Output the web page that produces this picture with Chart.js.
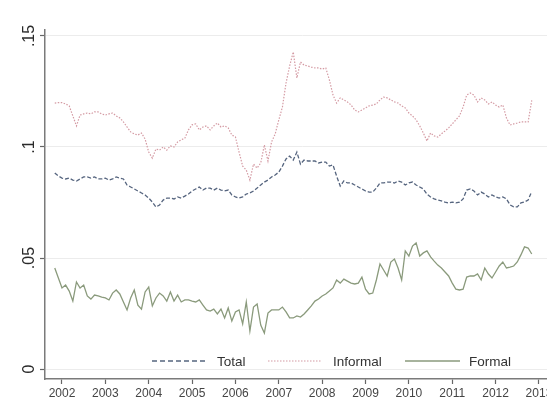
<!DOCTYPE html>
<html>
<head>
<meta charset="utf-8">
<script src="https://cdn.jsdelivr.net/npm/chart.js@4.4.0/dist/chart.umd.min.js"></script>
<style>
  html, body { margin: 0; padding: 0; background: #fff; overflow: hidden; }
  #wrap { width: 560px; height: 409px; }
</style>
</head>
<body>
<div id="wrap"><canvas id="c" width="560" height="409"></canvas></div>
<script>
// ---- data (monthly, starting November 2001) ----
const startYear = 2001;
const startMonth = 11;

const totalValues = [
  0.0883, 0.0869, 0.0860, 0.0856, 0.0860, 0.0851, 0.0847, 0.0856, 0.0865, 0.0865,
  0.0860, 0.0865, 0.0856, 0.0856, 0.0860, 0.0851, 0.0856, 0.0865, 0.0860, 0.0856,
  0.0829, 0.0820, 0.0811, 0.0802, 0.0793, 0.0784, 0.0770, 0.0752, 0.0730, 0.0739,
  0.0761, 0.0770, 0.0770, 0.0766, 0.0775, 0.0770, 0.0779, 0.0788, 0.0802, 0.0811,
  0.0820, 0.0806, 0.0815, 0.0815, 0.0806, 0.0815, 0.0806, 0.0802, 0.0806, 0.0784,
  0.0775, 0.0770, 0.0775, 0.0788, 0.0793, 0.0802, 0.0815, 0.0829, 0.0842, 0.0851,
  0.0865, 0.0874, 0.0887, 0.0914, 0.0946, 0.0959, 0.0941, 0.0977, 0.0923, 0.0941,
  0.0937, 0.0937, 0.0937, 0.0928, 0.0932, 0.0932, 0.0914, 0.0919, 0.0869, 0.0824,
  0.0847, 0.0838, 0.0838, 0.0829, 0.0820, 0.0811, 0.0802, 0.0797, 0.0797, 0.0815,
  0.0838, 0.0838, 0.0842, 0.0842, 0.0838, 0.0847, 0.0842, 0.0829, 0.0838, 0.0842,
  0.0829, 0.0820, 0.0811, 0.0788, 0.0775, 0.0766, 0.0761, 0.0757, 0.0752, 0.0748,
  0.0752, 0.0748, 0.0752, 0.0766, 0.0806, 0.0811, 0.0802, 0.0784, 0.0797, 0.0788,
  0.0775, 0.0784, 0.0775, 0.0770, 0.0775, 0.0766, 0.0739, 0.0730, 0.0730, 0.0748,
  0.0752, 0.0761, 0.0800
];

const informalValues = [
  0.1198, 0.1200, 0.1200, 0.1194, 0.1185, 0.1140, 0.1095, 0.1144, 0.1149, 0.1153,
  0.1149, 0.1158, 0.1158, 0.1149, 0.1144, 0.1149, 0.1153, 0.1140, 0.1131, 0.1113,
  0.1090, 0.1068, 0.1059, 0.1054, 0.1063, 0.1036, 0.0977, 0.0950, 0.0991, 0.0986,
  0.1000, 0.0986, 0.1005, 0.1000, 0.1023, 0.1032, 0.1040, 0.1077, 0.1100, 0.1104,
  0.1077, 0.1090, 0.1095, 0.1077, 0.1095, 0.1108, 0.1090, 0.1095, 0.1086, 0.1054,
  0.1045, 0.0977, 0.0914, 0.0896, 0.0851, 0.0923, 0.0905, 0.0928, 0.1009, 0.0937,
  0.1023, 0.1059, 0.1122, 0.1180, 0.1288, 0.1365, 0.1428, 0.1311, 0.1383, 0.1369,
  0.1365, 0.1360, 0.1356, 0.1356, 0.1351, 0.1356, 0.1302, 0.1234, 0.1198, 0.1221,
  0.1212, 0.1203, 0.1189, 0.1167, 0.1158, 0.1167, 0.1176, 0.1185, 0.1189, 0.1194,
  0.1212, 0.1225, 0.1221, 0.1212, 0.1203, 0.1198, 0.1185, 0.1176, 0.1153, 0.1140,
  0.1122, 0.1095, 0.1063, 0.1027, 0.1063, 0.1050, 0.1045, 0.1059, 0.1072, 0.1086,
  0.1104, 0.1122, 0.1140, 0.1180, 0.1234, 0.1243, 0.1234, 0.1203, 0.1221, 0.1212,
  0.1194, 0.1203, 0.1189, 0.1180, 0.1189, 0.1131, 0.1099, 0.1104, 0.1108, 0.1113,
  0.1113, 0.1113, 0.1210
];

const formalValues = [
  0.0455, 0.0410, 0.0365, 0.0378, 0.0351, 0.0306, 0.0392, 0.0365, 0.0378, 0.0329,
  0.0315, 0.0333, 0.0329, 0.0324, 0.0320, 0.0311, 0.0342, 0.0356, 0.0338, 0.0302,
  0.0266, 0.0320, 0.0356, 0.0288, 0.0270, 0.0347, 0.0369, 0.0284, 0.0320, 0.0342,
  0.0329, 0.0306, 0.0347, 0.0306, 0.0333, 0.0302, 0.0311, 0.0311, 0.0306, 0.0302,
  0.0311, 0.0288, 0.0266, 0.0261, 0.0270, 0.0248, 0.0270, 0.0230, 0.0275, 0.0216,
  0.0257, 0.0266, 0.0203, 0.0302, 0.0171, 0.0279, 0.0293, 0.0198, 0.0162, 0.0252,
  0.0266, 0.0266, 0.0266, 0.0279, 0.0257, 0.0230, 0.0230, 0.0239, 0.0234, 0.0248,
  0.0266, 0.0284, 0.0306, 0.0315, 0.0329, 0.0338, 0.0351, 0.0365, 0.0401, 0.0387,
  0.0405, 0.0396, 0.0387, 0.0383, 0.0387, 0.0414, 0.0360, 0.0338, 0.0342, 0.0401,
  0.0473, 0.0446, 0.0419, 0.0482, 0.0495, 0.0455, 0.0401, 0.0532, 0.0509, 0.0554,
  0.0568, 0.0509, 0.0523, 0.0532, 0.0505, 0.0486, 0.0468, 0.0455, 0.0437, 0.0419,
  0.0387, 0.0360, 0.0356, 0.0360, 0.0414, 0.0419, 0.0419, 0.0428, 0.0401, 0.0455,
  0.0428, 0.0410, 0.0437, 0.0464, 0.0482, 0.0455, 0.0459, 0.0464, 0.0482, 0.0514,
  0.0550, 0.0545, 0.0518
];

const yearTicks = [2002, 2003, 2004, 2005, 2006, 2007, 2008, 2009, 2010, 2011, 2012, 2013];
const yTicks = [0, 0.05, 0.1, 0.15];
const yTickLabels = ["0", ".05", ".1", ".15"];
const seriesNames = ["Total", "Informal", "Formal"];

// ---- build points (x in decimal years) ----
function toPoints(vals) {
  return vals.map((v, i) => ({ x: startYear + (startMonth - 1 + i) / 12, y: v }));
}

const colTotal = '#56657f';
const colInformal = '#d49aa3';
const colFormal = '#8a9a7c';

const FONT = "'Liberation Sans', Arial, sans-serif";

const yLabelPlugin = {
  id: 'yLabels',
  afterDraw(chart) {
    const ctx = chart.ctx;
    const ys = chart.scales.y;
    ctx.save();
    ctx.fillStyle = '#2a2a2a';
    ctx.font = "16px " + FONT;
    ctx.textAlign = 'center';
    ctx.textBaseline = 'alphabetic';
    yTicks.forEach((v, i) => {
      const py = ys.getPixelForValue(v);
      ctx.save();
      ctx.translate(34, py);
      ctx.rotate(-Math.PI / 2);
      ctx.fillText(yTickLabels[i], 0, 0);
      ctx.restore();
    });
    ctx.restore();
  }
};

const legendPlugin = {
  id: 'inLegend',
  afterDraw(chart) {
    const ctx = chart.ctx;
    const y = 361;
    const items = [
      { name: seriesNames[0], color: colTotal, dash: [5, 3], x1: 152, x2: 208, tx: 217, w: 1.3 },
      { name: seriesNames[1], color: colInformal, dash: [1.5, 1.5], x1: 268, x2: 322, tx: 333, w: 1.2 },
      { name: seriesNames[2], color: colFormal, dash: [], x1: 405, x2: 460, tx: 469, w: 1.3 }
    ];
    ctx.save();
    items.forEach(it => {
      ctx.strokeStyle = it.color;
      ctx.lineWidth = it.w;
      ctx.setLineDash(it.dash);
      ctx.beginPath();
      ctx.moveTo(it.x1, y);
      ctx.lineTo(it.x2, y);
      ctx.stroke();
      ctx.setLineDash([]);
      ctx.fillStyle = '#333';
      ctx.font = "13.5px " + FONT;
      ctx.textAlign = 'left';
      ctx.textBaseline = 'middle';
      ctx.fillText(it.name, it.tx, y + 1);
    });
    ctx.restore();
  }
};

new Chart(document.getElementById('c'), {
  type: 'line',
  data: {
    datasets: [
      { label: seriesNames[0], data: toPoints(totalValues), borderColor: colTotal, borderWidth: 1.3,
        borderDash: [4, 2], pointRadius: 0, tension: 0, fill: false },
      { label: seriesNames[1], data: toPoints(informalValues), borderColor: colInformal, borderWidth: 1.2,
        borderDash: [1.5, 1.5], pointRadius: 0, tension: 0, fill: false },
      { label: seriesNames[2], data: toPoints(formalValues), borderColor: colFormal, borderWidth: 1.3,
        pointRadius: 0, tension: 0, fill: false }
    ]
  },
  options: {
    responsive: false,
    animation: false,
    layout: { padding: { top: 30, left: 0, right: 0, bottom: 0 } },
    plugins: { legend: { display: false }, tooltip: { enabled: false } },
    scales: {
      x: {
        type: 'linear',
        min: 2001.608,
        max: 2013.485,
        afterBuildTicks: s => { s.ticks = yearTicks.map(v => ({ value: v })); },
        afterFit: s => { s.height = 30; },
        grid: { drawOnChartArea: false, drawTicks: true, tickLength: 5, tickColor: '#666', tickWidth: 1.2 },
        border: { display: true, color: '#7a7a7a', width: 1.5 },
        ticks: {
          autoSkip: false, maxRotation: 0, minRotation: 0, padding: 2,
          color: '#444', font: { family: FONT, size: 12 },
          callback: v => String(v)
        }
      },
      y: {
        type: 'linear',
        min: -0.0045,
        max: 0.1527,
        afterBuildTicks: s => { s.ticks = yTicks.map(v => ({ value: v })); },
        afterFit: s => { s.width = 45; },
        grid: { drawOnChartArea: true, color: '#ececec', lineWidth: 1, drawTicks: true, tickLength: 5, tickColor: '#666', tickWidth: 1.2 },
        border: { display: true, color: '#7a7a7a', width: 1.5 },
        ticks: { display: false }
      }
    }
  },
  plugins: [yLabelPlugin, legendPlugin]
});
</script>
</body>
</html>
